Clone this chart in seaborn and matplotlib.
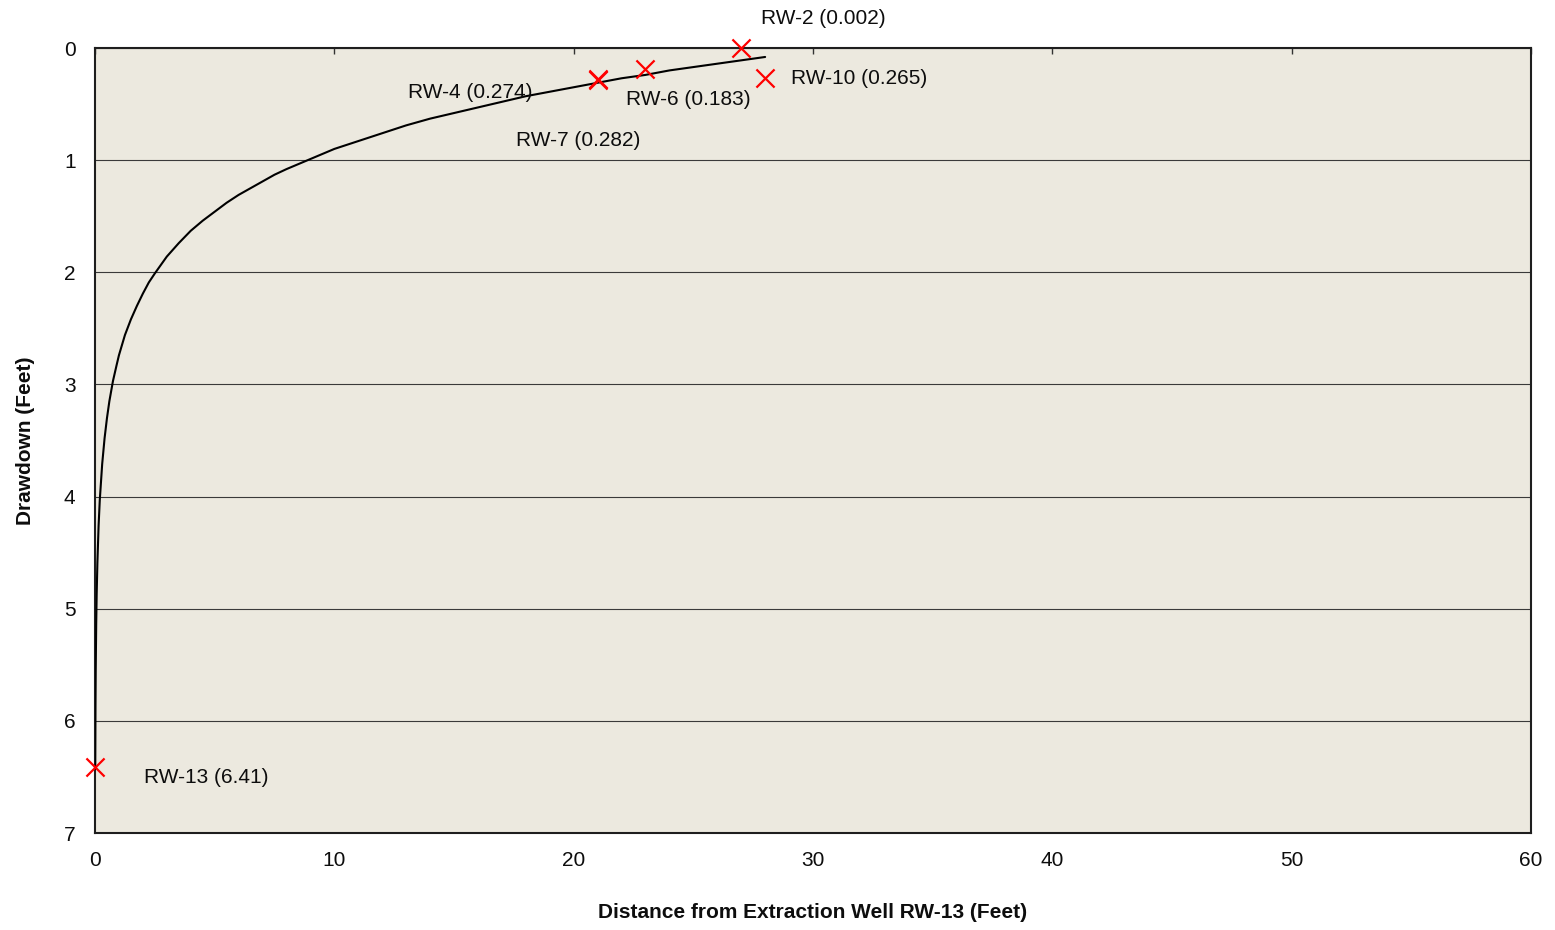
import matplotlib
matplotlib.use("Agg")
import matplotlib.pyplot as plt
import seaborn as sns
import pandas as pd

# Fitted drawdown curve (distance ft, drawdown ft)
curve_distance = [0.01, 0.02, 0.03, 0.05, 0.07, 0.1, 0.15, 0.2, 0.3, 0.4, 0.5, 0.6, 0.75, 0.9,
                  1.0, 1.25, 1.5, 1.75, 2.0, 2.25, 2.5, 3.0, 3.5, 4.0, 4.5, 5.0, 5.5,
                  6.0, 6.5, 7.0, 7.5, 8.0, 9.0, 10.0, 11.0, 12.0, 13.0, 14.0, 15.0,
                  16.0, 17.0, 18.0, 19.0, 20.0, 21.0, 22.0, 23.0, 24.0, 25.0, 26.0,
                  27.0, 28.0]
curve_drawdown = [6.43, 5.87, 5.55, 5.14, 4.87, 4.59, 4.26, 4.03, 3.71, 3.48, 3.30, 3.15, 2.97, 2.83,
                  2.74, 2.56, 2.42, 2.30, 2.19, 2.09, 2.01, 1.86, 1.74, 1.63, 1.54, 1.46, 1.38,
                  1.31, 1.25, 1.19, 1.13, 1.08, 0.99, 0.90, 0.83, 0.76, 0.69, 0.63, 0.58,
                  0.53, 0.48, 0.43, 0.39, 0.35, 0.31, 0.27, 0.24, 0.20, 0.17, 0.14,
                  0.11, 0.08]

# Observed wells
wells = ["RW-2", "RW-10", "RW-6", "RW-4", "RW-7", "RW-13"]
well_distance = [27, 28, 23, 21, 21, 0]
well_drawdown = [0.002, 0.265, 0.183, 0.274, 0.282, 6.41]
well_labels = ["RW-2 (0.002)", "RW-10 (0.265)", "RW-6 (0.183)", "RW-4 (0.274)",
               "RW-7 (0.282)", "RW-13 (6.41)"]

x_ticks = [0, 10, 20, 30, 40, 50, 60]
y_ticks = [0, 1, 2, 3, 4, 5, 6, 7]

# label placement (pixel offsets from marker) -- layout only
label_offsets = [(82, 30, "center"), (26, -1, "left"), (-19, -31, "left"),
                 (-190, -14, "left"), (-82, -61, "left"), (49, -11, "left")]

sns.set_theme(style="white")
plt.rcParams["font.family"] = ["Liberation Sans", "DejaVu Sans"]

FS = 15

fig = plt.figure(figsize=(15.55, 9.3), dpi=100)
ax = fig.add_axes([95 / 1555, 1 - 833 / 930, (1531 - 95) / 1555, (833 - 48) / 930])
ax.set_facecolor("#ECE9DF")

curve_df = pd.DataFrame({"Distance": curve_distance, "Drawdown": curve_drawdown})
wells_df = pd.DataFrame({"Well": wells, "Distance": well_distance, "Drawdown": well_drawdown})

sns.lineplot(data=curve_df, x="Distance", y="Drawdown", ax=ax, color="black",
             linewidth=1.5, sort=False, zorder=3)
sns.scatterplot(data=wells_df, x="Distance", y="Drawdown", ax=ax, marker="x",
                color="#FF0000", s=170, linewidth=1.6, zorder=4, clip_on=False)

for xv, yv, lab, (dx, dy, ha) in zip(well_distance, well_drawdown, well_labels, label_offsets):
    ax.annotate(lab, xy=(xv, yv), xytext=(dx, dy), textcoords="offset pixels",
                ha=ha, va="center", fontsize=FS, color="#0d0d0d", zorder=5,
                annotation_clip=False)

ax.set_xlim(0, 60)
ax.set_ylim(7, 0)
ax.set_xticks(x_ticks)
ax.set_yticks(y_ticks)
ax.set_xticklabels([str(v) for v in x_ticks])
ax.set_yticklabels([str(v) for v in y_ticks])

ax.yaxis.grid(True, color="#3a3a3a", linewidth=0.8)
ax.xaxis.grid(False)
ax.set_axisbelow(True)

for sp in ax.spines.values():
    sp.set_visible(True)
    sp.set_color("#1e1e1e")
    sp.set_linewidth(1.5)

ax.tick_params(axis="x", top=True, bottom=False, labeltop=False, labelbottom=True,
               direction="in", length=4, width=1, color="#333333", pad=13,
               labelsize=FS, labelcolor="#0d0d0d")
ax.tick_params(axis="y", left=False, right=False, length=0, pad=14,
               labelsize=FS, labelcolor="#0d0d0d")

ax.set_xlabel("Distance from Extraction Well RW-13 (Feet)", fontsize=FS,
              fontweight="bold", labelpad=24, color="#0d0d0d")
ax.set_ylabel("Drawdown (Feet)", fontsize=FS, fontweight="bold", labelpad=21,
              color="#0d0d0d")

fig.savefig("out.png", dpi=100, facecolor="white")
